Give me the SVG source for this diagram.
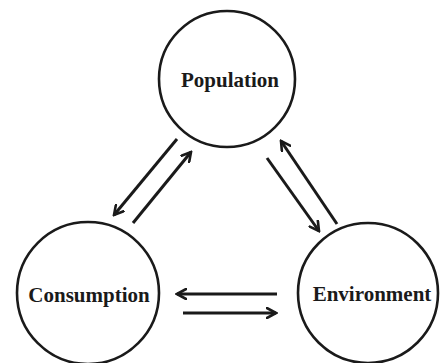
<svg xmlns="http://www.w3.org/2000/svg" width="447" height="363" viewBox="0 0 447 363">
<defs>
<style>
.node{fill:none;stroke:#1a1a1a;stroke-width:2.6}
.lbl{font-family:"Liberation Serif","Times New Roman",serif;font-weight:bold;font-size:21px;fill:#1a1a1a;text-anchor:middle}
.conn{stroke:#1a1a1a;stroke-width:3;fill:none;marker-end:url(#ah)}
</style>
<marker id="ah" viewBox="0 0 12 12" refX="10" refY="6" markerWidth="12" markerHeight="12" markerUnits="userSpaceOnUse" orient="auto">
<path d="M1,1 L10,6 L1,11" fill="none" stroke="#1a1a1a" stroke-width="2.6" stroke-linecap="round" stroke-linejoin="miter"/>
</marker>
</defs>
<rect width="447" height="363" fill="#ffffff"/>
<g id="population">
<circle class="node" cx="227" cy="79" r="68"/>
<text class="lbl" x="230" y="87">Population</text>
</g>
<g id="consumption">
<circle class="node" cx="88" cy="293" r="71"/>
<text class="lbl" x="89" y="302">Consumption</text>
</g>
<g id="environment">
<circle class="node" cx="368" cy="293" r="70"/>
<text class="lbl" x="372" y="301">Environment</text>
</g>
<g id="connectors">
<line class="conn" x1="177" y1="139" x2="114" y2="215"/>
<line class="conn" x1="133" y1="223" x2="191" y2="152"/>
<line class="conn" x1="267" y1="158" x2="319" y2="231"/>
<line class="conn" x1="337" y1="224" x2="281" y2="141"/>
<line class="conn" x1="277" y1="294" x2="177" y2="294"/>
<line class="conn" x1="183" y1="313" x2="276" y2="313"/>
</g>
</svg>
